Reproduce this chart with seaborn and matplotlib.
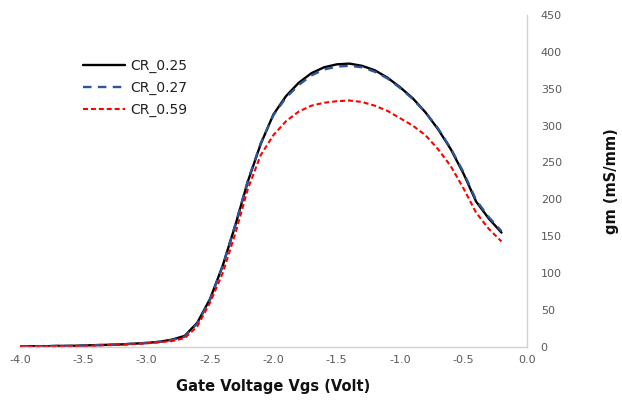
import numpy as np
import pandas as pd
import matplotlib
matplotlib.use("Agg")
import matplotlib.pyplot as plt
import seaborn as sns

vgs = [-4.0, -3.9, -3.8, -3.7, -3.6, -3.5, -3.4, -3.3, -3.2, -3.1, -3.0, -2.9, -2.8,
       -2.7, -2.6, -2.5, -2.4, -2.3, -2.2, -2.1, -2.0, -1.9, -1.8, -1.7, -1.6, -1.5,
       -1.4, -1.3, -1.2, -1.1, -1.0, -0.9, -0.8, -0.7, -0.6, -0.5, -0.4, -0.3, -0.2]

cr_025 = [1, 1, 1, 1.5, 1.5, 2, 2.5, 3, 3.5, 4.5, 5.5, 7, 10,
          15, 33, 65, 110, 165, 225, 275, 315, 340, 358, 371, 379, 383,
          384, 381, 375, 365, 352, 337, 318, 295, 268, 235, 197, 174, 155]

cr_027 = [1, 1, 1, 1.5, 1.5, 2, 2.5, 3, 3.5, 4.5, 5.5, 7, 9.5,
          14, 32, 64, 110, 166, 226, 276, 314, 338, 355, 368, 376, 380,
          381, 379, 373, 364, 351, 336, 318, 296, 269, 237, 199, 176, 157]

cr_059 = [0.5, 0.5, 1, 1, 1.5, 1.5, 2, 2.5, 3, 4, 5, 6.5, 8,
          12, 28, 60, 100, 154, 215, 260, 287, 306, 319, 327, 331, 333,
          334, 332, 327, 320, 310, 300, 287, 268, 245, 215, 182, 160, 143]

labels = ["CR_0.25", "CR_0.27", "CR_0.59"]
x_ticks = [-4.0, -3.5, -3.0, -2.5, -2.0, -1.5, -1.0, -0.5, 0.0]
y_ticks = [0, 50, 100, 150, 200, 250, 300, 350, 400, 450]

sns.set_style("white")
plt.rcParams['font.family'] = ['DejaVu Sans']

fig = plt.figure(figsize=(6.22, 4.03), dpi=100)
ax = fig.add_axes([0.032, 0.139, 0.815, 0.824])

styles = [
    dict(color="#000000", linestyle="-", linewidth=1.7),
    dict(color="#2f5597", linestyle=(0, (3.6, 2.7)), linewidth=1.7),
    dict(color="#ff0000", linestyle=(0, (2.4, 1.4)), linewidth=1.5),
]
for lab, vals, st in zip(labels, [cr_025, cr_027, cr_059], styles):
    df = pd.DataFrame({"Vgs": vgs, "gm": vals})
    sns.lineplot(data=df, x="Vgs", y="gm", ax=ax, label=lab,
                 solid_joinstyle="round", dash_joinstyle="round", **st)

ax.set_xlim(-4.0, 0.0)
ax.set_ylim(0, 450)
ax.set_xticks(x_ticks)
ax.set_xticklabels([f"{t:.1f}" for t in x_ticks])
ax.set_yticks(y_ticks)
ax.yaxis.tick_right()
ax.yaxis.set_label_position("right")
ax.tick_params(axis="both", length=0, labelsize=8, labelcolor="#595959")
ax.tick_params(axis="y", pad=10)
ax.tick_params(axis="x", pad=6)

for s in ["top", "left"]:
    ax.spines[s].set_visible(False)
for s in ["bottom", "right"]:
    ax.spines[s].set_color("#d0d0d0")
    ax.spines[s].set_linewidth(1.0)

ax.set_xlabel("Gate Voltage Vgs (Volt)", fontsize=10.5, fontweight="bold", labelpad=10, color="#111111")
ax.set_ylabel("gm (mS/mm)", fontsize=10.5, fontweight="bold", labelpad=30, rotation=90, color="#111111")

leg = ax.legend(loc="upper left", bbox_to_anchor=(0.1, 0.905), frameon=False, fontsize=10,
                handlelength=3.0, handletextpad=0.4, labelspacing=0.55)
for t in leg.get_texts():
    t.set_color("#222222")

fig.savefig("out.png", dpi=100)
